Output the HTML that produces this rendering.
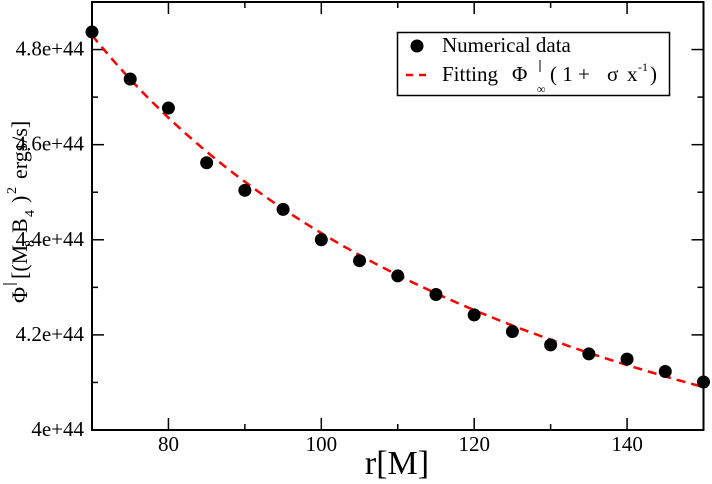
<!DOCTYPE html>
<html><head><meta charset="utf-8"><style>
body{margin:0;background:#fff;}
svg{display:block;font-family:"Liberation Serif",serif;}
</style></head><body>
<svg id="chart" width="712" height="484">
<g id="grid"></g>
</svg>
<script>
const xValues=[70,75,80,85,90,95,100,105,110,115,120,125,130,135,140,145,150];
const yValues=[4.837,4.738,4.677,4.562,4.504,4.464,4.400,4.356,4.324,4.285,4.242,4.207,4.179,4.160,4.149,4.123,4.101];
const fitA=[3.443];
const fitB=[97.1];
const xTicks=[80,100,120,140];
const xMinor=[70,90,110,130,150];
const yTicks=[4.0,4.2,4.4,4.6,4.8];
const yTickLabels=["4e+44","4.2e+44","4.4e+44","4.6e+44","4.8e+44"];
const yMinor=[4.1,4.3,4.5,4.7];
const L=92,R=703.5,T=2,B=430,xmin=70,xmax=150,ymin=4,ymax=4.9;
const sx=v=>L+(v-xmin)/(xmax-xmin)*(R-L);
const sy=v=>B-(v-ymin)/(ymax-ymin)*(B-T);
const svg=document.getElementById('chart');
const NS='http://www.w3.org/2000/svg';
function mk(t,a,p){const e=document.createElementNS(NS,t);for(const k in a)e.setAttribute(k,a[k]);(p||svg).appendChild(e);return e;}
const frame=mk('rect',{x:L,y:T,width:R-L,height:B-T,fill:'none',stroke:'#000','stroke-width':2});


xTicks.forEach(v=>{const x=sx(v);
 mk('line',{x1:x,y1:B,x2:x,y2:B-12,stroke:'#000','stroke-width':1.5});
 mk('line',{x1:x,y1:T,x2:x,y2:T+12,stroke:'#000','stroke-width':1.5});
 const t=mk('text',{x:x,y:451,'font-size':21,'text-anchor':'middle'});t.textContent=v;
 
 });
xMinor.forEach(v=>{const x=sx(v);
 mk('line',{x1:x,y1:B,x2:x,y2:B-6,stroke:'#000','stroke-width':1.5});
 mk('line',{x1:x,y1:T,x2:x,y2:T+6,stroke:'#000','stroke-width':1.5});});
yTicks.forEach((v,i)=>{const y=sy(v);
 mk('line',{x1:L,y1:y,x2:L+12,y2:y,stroke:'#000','stroke-width':1.5});
 mk('line',{x1:R,y1:y,x2:R-12,y2:y,stroke:'#000','stroke-width':1.5});
 const t=mk('text',{x:84,y:y+6,'font-size':21,'text-anchor':'end'});t.textContent=yTickLabels[i];
 
 });
yMinor.forEach(v=>{const y=sy(v);
 mk('line',{x1:L,y1:y,x2:L+6,y2:y,stroke:'#000','stroke-width':1.5});
 mk('line',{x1:R,y1:y,x2:R-6,y2:y,stroke:'#000','stroke-width':1.5});});
let d='';
for(let v=xmin;v<=xmax;v+=0.5){d+=(v===xmin?'M':'L')+sx(v).toFixed(1)+','+sy(fitA[0]+fitB[0]/v).toFixed(1);}
const fl=mk('path',{d:d,fill:'none',stroke:'#ff0000','stroke-width':2.5,'stroke-dasharray':'9,6'});


xValues.forEach((v,i)=>{const c=mk('circle',{cx:sx(v),cy:sy(yValues[i]),r:6.5,fill:'#000'});
 
 });
</script>
<svg style="position:absolute;left:0;top:0" width="712" height="484">
<g font-family="Liberation Serif,serif">
<rect x="397.5" y="32.5" width="272" height="63" fill="#fff" stroke="#000" stroke-width="1.5"/>
<circle cx="417" cy="46" r="6.5" fill="#000"/>
<text x="442" y="52" font-size="21">Numerical data</text>
<line x1="406" y1="75" x2="430" y2="75" stroke="#f00" stroke-width="2.5" stroke-dasharray="7,6"/>
<text x="442" y="81" font-size="21">Fitting</text>
<text x="512" y="81" font-size="21">Φ</text>
<line x1="540" y1="60" x2="540" y2="72" stroke="#000" stroke-width="1"/>
<text x="537" y="93" font-size="12">∞</text>
<text x="550" y="81" font-size="21">( 1 +</text>
<text x="607" y="81" font-size="21">σ</text>
<text x="627" y="81" font-size="21">x</text>
<text x="638" y="71" font-size="12">-1</text>
<text x="650" y="81" font-size="21">)</text>
</g>
<text x="397" y="474" font-size="34" text-anchor="middle" font-family="Liberation Serif,serif">r[M]</text>
<g transform="translate(27,303) rotate(-90)" font-family="Liberation Serif,serif" font-size="22">
<text x="0" y="0">Φ</text>
<line x1="19" y1="-24" x2="19" y2="-10" stroke="#000" stroke-width="1"/>
<text x="24" y="0">[(M</text>
<text x="56" y="7" font-size="14">8</text>
<text x="70" y="0">B</text>
<text x="86" y="7" font-size="14">4</text>
<text x="100" y="0">)</text>
<text x="109" y="-11" font-size="14">2</text>
<text x="124" y="0">ergs/s]</text>
</g>
</svg>
</body></html>
